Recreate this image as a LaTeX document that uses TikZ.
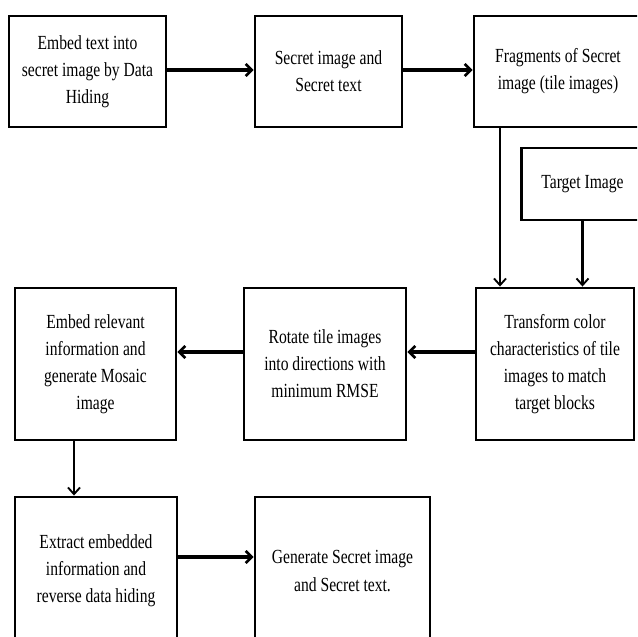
\documentclass[tikz,border=0pt]{standalone}
\usepackage{fontspec}
\setmainfont{Liberation Serif}[FakeStretch=0.78]
\usetikzlibrary{arrows.meta}

\tikzset{
  stepbox/.style={draw, line width=2.2pt, align=center, inner sep=2pt,
    font=\fontsize{15}{20.3}\selectfont},
  boxsize/.style 2 args={minimum width=#1*0.75pt, minimum height=#2*0.75pt},
  harrow/.style={line width=2.6pt, -{Straight Barb[length=4.5pt,width=9pt,line width=2pt]}},
  varrow/.style={line width=1.6pt, -{Straight Barb[length=5pt,width=9pt,line width=1.4pt]}},
}

\begin{document}
\begin{tikzpicture}[x=0.75pt,y=0.75pt,yscale=-1,xscale=1]
\useasboundingbox (0,0) rectangle (637,637);
\clip (0,0) rectangle (637,637);

%Row 1
\node [stepbox, boxsize={157}{111}] (embed) at (87.5,71.5) {Embed text into\\secret image by Data\\Hiding};
\node [stepbox, boxsize={147}{111}] (secret) at (328.5,71.5) {Secret image and\\Secret text};
\node [stepbox, boxsize={168}{111}] (frag) at (558,71.5) {Fragments of Secret\\image (tile images)};

%Target
\node [stepbox, boxsize={122}{72}] (target) at (582.5,184) {Target Image};

%Row 2
\node [stepbox, boxsize={158}{152}] (transform) at (555,364) {Transform color\\characteristics of tile\\images to match\\target blocks};
\node [stepbox, boxsize={162}{152}] (rotate) at (325,364) {Rotate tile images\\into directions with\\minimum  RMSE};
\node [stepbox, boxsize={161}{152}] (mosaic) at (95.5,364) {Embed relevant\\information and\\generate Mosaic\\image};

%Row 3
\node [stepbox, boxsize={162}{148}] (extract) at (96,571) {Extract embedded\\information and\\reverse data hiding};
\node [stepbox, boxsize={175}{148}] (generate) at (342.5,571) {Generate Secret image\\and Secret text.};

\coordinate (split) at (500,0);
\coordinate (midrow) at (0,352);
\coordinate (down) at (74,0);
\coordinate (lowrow) at (0,557);

%Connectors
\draw [harrow] (embed.east |- 0,70) -- (secret.west |- 0,70);
\draw [harrow] (secret.east |- 0,70) -- (frag.west |- 0,70);
\draw [varrow] (frag.south -| split) -- (transform.north -| split);
\draw [varrow] (target.south) -- (transform.north -| target);
\draw [harrow] (transform.west |- midrow) -- (rotate.east |- midrow);
\draw [harrow] (rotate.west |- midrow) -- (mosaic.east |- midrow);
\draw [varrow] (mosaic.south -| down) -- (extract.north -| down);
\draw [harrow] (extract.east |- lowrow) -- (generate.west |- lowrow);

\end{tikzpicture}
\end{document}
